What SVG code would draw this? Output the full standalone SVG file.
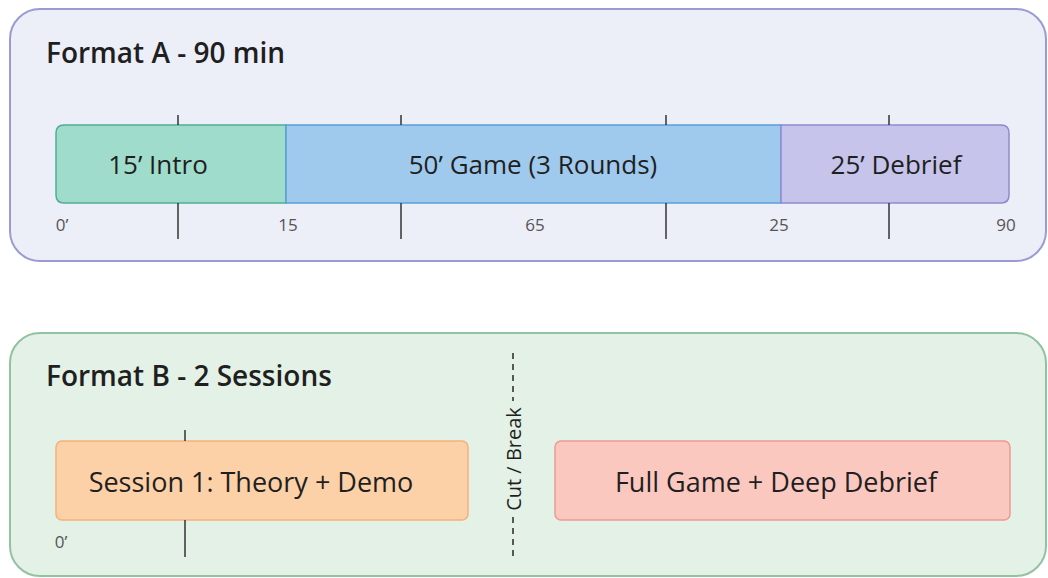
<svg xmlns="http://www.w3.org/2000/svg" width="1048" height="578" viewBox="0 0 1048 578">
<style>
text{font-family:"Open Sans","Liberation Sans",sans-serif;fill:#1f1f1f}
.title{font-size:28px;font-weight:600}
.seg{font-size:26px;text-anchor:middle}
.ses{font-size:27px;text-anchor:middle}
.ax{font-size:17px;fill:#555;text-anchor:middle}
.tick{stroke:#333;stroke-width:1.5}
</style>
<rect width="1048" height="578" fill="#ffffff"/>
<g id="formatA">
<rect x="10" y="9" width="1036" height="252" rx="30" fill="#eceef8" stroke="#9a9bd2" stroke-width="2"/>
<text class="title" x="46" y="63">Format A - 90 min</text>
</g>
<g id="formatB">
<rect x="10" y="333" width="1036" height="243" rx="30" fill="#e3f1e6" stroke="#93c2a1" stroke-width="2"/>
<text class="title" x="46" y="386">Format B - 2 Sessions</text>
</g>
<g id="intro">
<path d="M64,125 H286 V203 H64 Q56,203 56,195 V133 Q56,125 64,125 Z" fill="#9fdccb" stroke="#4fae95" stroke-width="1.5"/>
<text class="seg" x="158" y="174">15’ Intro</text>
</g>
<g id="game">
<rect x="286" y="125" width="495" height="78" fill="#9fcaed" stroke="#5a9fd8" stroke-width="1.5"/>
<text class="seg" x="533" y="174">50’ Game (3 Rounds)</text>
</g>
<g id="debrief">
<path d="M781,125 H1001 Q1009,125 1009,133 V195 Q1009,203 1001,203 H781 Z" fill="#c6c4ea" stroke="#8e8ad0" stroke-width="1.5"/>
<text class="seg" x="896" y="174">25’ Debrief</text>
</g>
<g id="session1">
<rect x="56" y="441" width="412" height="79" rx="6" fill="#fdd1a8" stroke="#f2b27a" stroke-width="1.5"/>
<text class="ses" x="251" y="492">Session 1: Theory + Demo</text>
</g>
<g id="fullgame">
<rect x="555" y="441" width="455" height="79" rx="6" fill="#fbc8c0" stroke="#ec9a90" stroke-width="1.5"/>
<text class="ses" x="776" y="492">Full Game + Deep Debrief</text>
</g>
<g id="axes">
<line class="tick" x1="178" y1="115" x2="178" y2="125"/>
<line class="tick" x1="401" y1="115" x2="401" y2="125"/>
<line class="tick" x1="666" y1="115" x2="666" y2="125"/>
<line class="tick" x1="889" y1="115" x2="889" y2="125"/>
<line class="tick" x1="178" y1="203" x2="178" y2="239"/>
<line class="tick" x1="401" y1="203" x2="401" y2="239"/>
<line class="tick" x1="666" y1="203" x2="666" y2="239"/>
<line class="tick" x1="889" y1="203" x2="889" y2="239"/>
<text class="ax" x="62" y="231">0’</text>
<text class="ax" x="288" y="231">15</text>
<text class="ax" x="535" y="231">65</text>
<text class="ax" x="779" y="231">25</text>
<text class="ax" x="1006" y="231">90</text>
<line class="tick" x1="185" y1="430" x2="185" y2="441"/>
<line class="tick" x1="185" y1="520" x2="185" y2="557"/>
<text class="ax" x="61" y="548">0’</text>
</g>
<g id="connectors">
<line x1="513" y1="353" x2="513" y2="401" stroke="#333" stroke-width="1.6" stroke-dasharray="6,5"/>
<line x1="513" y1="517" x2="513" y2="557" stroke="#333" stroke-width="1.6" stroke-dasharray="6,5"/>
<text x="0" y="0" transform="translate(521,459) rotate(-90)" font-size="20" text-anchor="middle">Cut / Break</text>
</g>
</svg>
